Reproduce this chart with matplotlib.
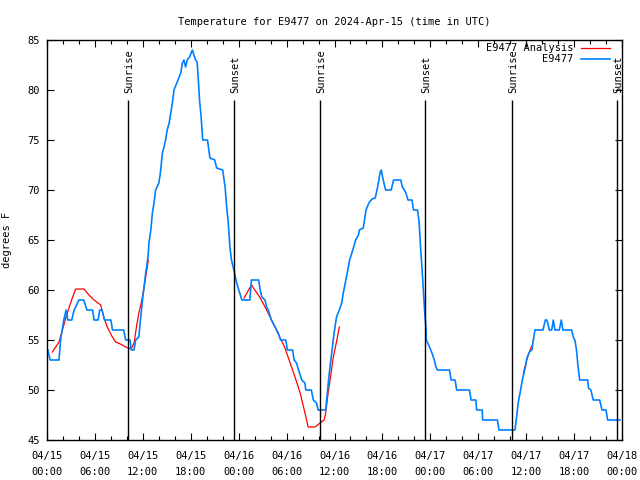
import matplotlib
matplotlib.use("Agg")
import matplotlib.pyplot as plt

# hours since 2024-04-15 00:00 UTC, temperature in degrees F
obs_hours = [0.1, 0.4, 1.5, 1.7, 2.1, 2.4, 2.6, 3.1, 3.4, 4.0, 4.6, 5.0, 5.7, 5.9,
             6.4, 6.6, 6.9, 7.2, 8.0, 8.2, 9.6, 9.85, 10.4, 10.55, 10.9, 11.1, 11.5,
             11.7, 12.0, 12.15, 12.36, 12.65, 12.77, 13.0, 13.2, 13.4, 13.6, 14.0,
             14.2, 14.45, 14.65, 14.85, 15.05, 15.3, 15.5, 15.7, 15.9, 16.25, 16.5,
             16.75, 16.95, 17.15, 17.35, 17.55, 17.85, 18.2, 18.4, 18.6, 18.8, 18.95,
             19.1, 19.3, 19.5, 20.1, 20.4, 21.0, 21.25, 22.0, 22.3, 22.5, 22.7, 22.9,
             23.1, 23.4, 23.75, 24.4, 25.4, 25.6, 26.5, 26.7, 26.9, 27.3, 27.5, 27.7,
             28.1, 28.55, 28.95, 29.25, 29.9, 30.1, 30.75, 30.95, 31.25, 31.5, 31.9,
             32.3, 32.4, 33.1, 33.35, 33.75, 33.95, 34.9, 35.1, 35.35, 35.65, 35.95,
             36.25, 36.6, 36.9, 37.1, 37.5, 37.9, 38.4, 38.65, 39.0, 39.1, 39.6,
             39.95, 40.3, 40.7, 41.1, 41.4, 41.7, 41.85, 42.1, 42.4, 43.1, 43.4, 44.3,
             44.5, 44.9, 45.2, 45.7, 45.9, 46.4, 46.6, 46.8, 47.05, 47.2, 47.3, 47.45,
             47.5, 47.9, 48.2, 48.5, 48.7, 48.9, 50.4, 50.6, 51.1, 51.3, 52.9, 53.1,
             53.7, 53.8, 54.5, 54.55, 56.4, 56.6, 58.6, 58.8, 59.0, 59.3, 59.6, 59.9,
             60.1, 60.4, 60.7, 60.9, 61.1, 62.1, 62.4, 62.6, 62.9, 63.2, 63.4, 63.6,
             64.15, 64.4, 64.6, 65.7, 65.9, 66.1, 66.3, 66.5, 66.7, 67.7, 67.8, 68.1,
             68.4, 69.2, 69.5, 70.0, 70.2, 71.75]
obs_temp = [54, 53, 53, 55, 57, 58, 57, 57, 58, 59, 59, 58, 58, 57,
            57, 58, 58, 57, 57, 56, 56, 55, 55, 54, 54, 55, 55.3,
            57, 59.3, 60.3, 61.7, 63.3, 64.7, 66, 67.7, 68.7, 70, 70.7,
            71.7, 73.7, 74.3, 75, 76, 76.7, 77.7, 78.7, 80, 80.7, 81.2,
            81.7, 82.7, 83, 82.3, 83, 83.3, 84, 83.5, 83, 82.8, 81,
            79, 77.3, 75, 75, 73.2, 73, 72.2, 72, 70.3, 68.3, 66.7, 64.3,
            63, 62, 60.7, 59, 59, 61, 61, 60, 59.3, 59, 58.3, 58,
            57, 56.3, 55.7, 55, 55, 54, 54, 53, 52.7, 52, 51,
            50.7, 50, 50, 49, 48.7, 48, 48, 49.7, 51.7, 53.7, 55.7,
            57.3, 58, 58.7, 59.7, 61.3, 63, 64.3, 65, 65.5, 66, 66.2,
            68, 68.7, 69.1, 69.2, 70.3, 71.7, 72, 71, 70, 70, 71, 71,
            70.3, 69.8, 69, 69, 68, 68, 66.7, 64, 61, 59, 57.7, 56.3,
            55, 54.3, 53.7, 53, 52.3, 52, 52, 51, 51, 50, 50, 49,
            49, 48, 48, 47, 47, 46, 46, 47.3, 48.7, 50, 51.3, 52.3,
            53.2, 53.8, 54, 55, 56, 56, 57, 57, 56, 56, 57, 56,
            56, 57, 56, 56, 55.3, 55, 54, 52.3, 51, 51, 50.2, 50,
            49, 49, 48, 48, 47, 47]

# analysis segments
ana1_hours = [0.67, 1.5, 1.9, 2.34, 2.75, 3.17, 3.59, 4.63, 5.26, 5.89, 6.72, 7.14,
              7.55, 8.18, 8.6, 9.2, 9.85, 10.56, 10.9, 11.2, 11.5, 11.8, 12.15,
              12.36, 12.69]
ana1_temp = [53.8, 54.8, 55.9, 57.2, 58.2, 59.2, 60.1, 60.1, 59.5, 59, 58.5, 57.2,
             56.3, 55.3, 54.8, 54.6, 54.3, 54.1, 54.7, 56.3, 57.7, 58.7, 60.2,
             61.3, 63.0]
ana2_hours = [24.67, 25.6, 26.7, 27.5, 28.3, 29.2, 29.8, 30.4, 31.05, 31.7, 32.3,
              32.7, 33.55, 34.2, 34.7, 34.9, 35.2, 35.5, 35.85, 36.3, 36.6]
ana2_temp = [59.2, 60.5, 59.2, 58, 56.7, 55.2, 54.2, 52.8, 51.3, 49.7, 47.7,
             46.3, 46.3, 46.7, 47, 47.7, 49.7, 51.3, 53.3, 55, 56.3]
ana3_hours = [59.65, 60.07, 60.4, 60.7]
ana3_temp = [51.7, 53, 53.8, 54.4]

event_hours = [10.18, 23.45, 34.23, 47.37, 58.19, 71.42]
event_names = ["Sunrise", "Sunset", "Sunrise", "Sunset", "Sunrise", "Sunset"]

tick_hours = list(range(0, 73, 6))
tick_labels = ["04/15\n00:00", "04/15\n06:00", "04/15\n12:00", "04/15\n18:00",
               "04/16\n00:00", "04/16\n06:00", "04/16\n12:00", "04/16\n18:00",
               "04/17\n00:00", "04/17\n06:00", "04/17\n12:00", "04/17\n18:00",
               "04/18\n00:00"]

FS = 7.5
plt.rcParams['font.family'] = ['DejaVu Sans Mono']
plt.rcParams['font.size'] = FS

fig = plt.figure(figsize=(6.4, 4.8), dpi=100)
ax = fig.add_axes([47 / 640, 40 / 480, 575 / 640, 400 / 480])

red = '#ff0000'
blue = '#0080ff'
ax.plot(ana1_hours, ana1_temp, color=red, lw=0.9, label='E9477 Analysis')
ax.plot(ana2_hours, ana2_temp, color=red, lw=0.9)
ax.plot(ana3_hours, ana3_temp, color=red, lw=0.9)
ax.plot(obs_hours, obs_temp, color=blue, lw=1.2, label='E9477')

for h, name in zip(event_hours, event_names):
    ax.vlines(h, 45, 79, color='black', lw=1.0)
    ax.text(h + 0.15, 79.7, name, rotation=90, ha='center', va='bottom',
            fontsize=FS)

ax.set_xlim(0, 72)
ax.set_ylim(45, 85)
ax.set_xticks(tick_hours)
ax.set_xticklabels(tick_labels)
ax.set_xticks(range(0, 73, 2), minor=True)
ax.set_yticks(range(45, 86, 5))
for lbl in ax.get_xticklabels():
    lbl.set_linespacing(1.7)

ax.tick_params(direction='in', top=True, right=True, length=5, width=0.8)
ax.tick_params(axis='x', which='major', pad=8)
ax.tick_params(axis='y', pad=5)
ax.tick_params(which='minor', direction='in', top=True, length=3, width=0.8)
for s in ax.spines.values():
    s.set_linewidth(1.0)

ax.set_title("Temperature for E9477 on 2024-Apr-15 (time in UTC)", fontsize=FS, pad=11)
ax.set_ylabel("degrees F", labelpad=11)

ax.legend(loc='upper right', bbox_to_anchor=(0.979, 0.992), frameon=False,
          markerfirst=False, handlelength=2.8, handletextpad=0.7,
          labelspacing=0.1, borderpad=0, borderaxespad=0, fontsize=FS)

fig.savefig("out.png", dpi=100)
